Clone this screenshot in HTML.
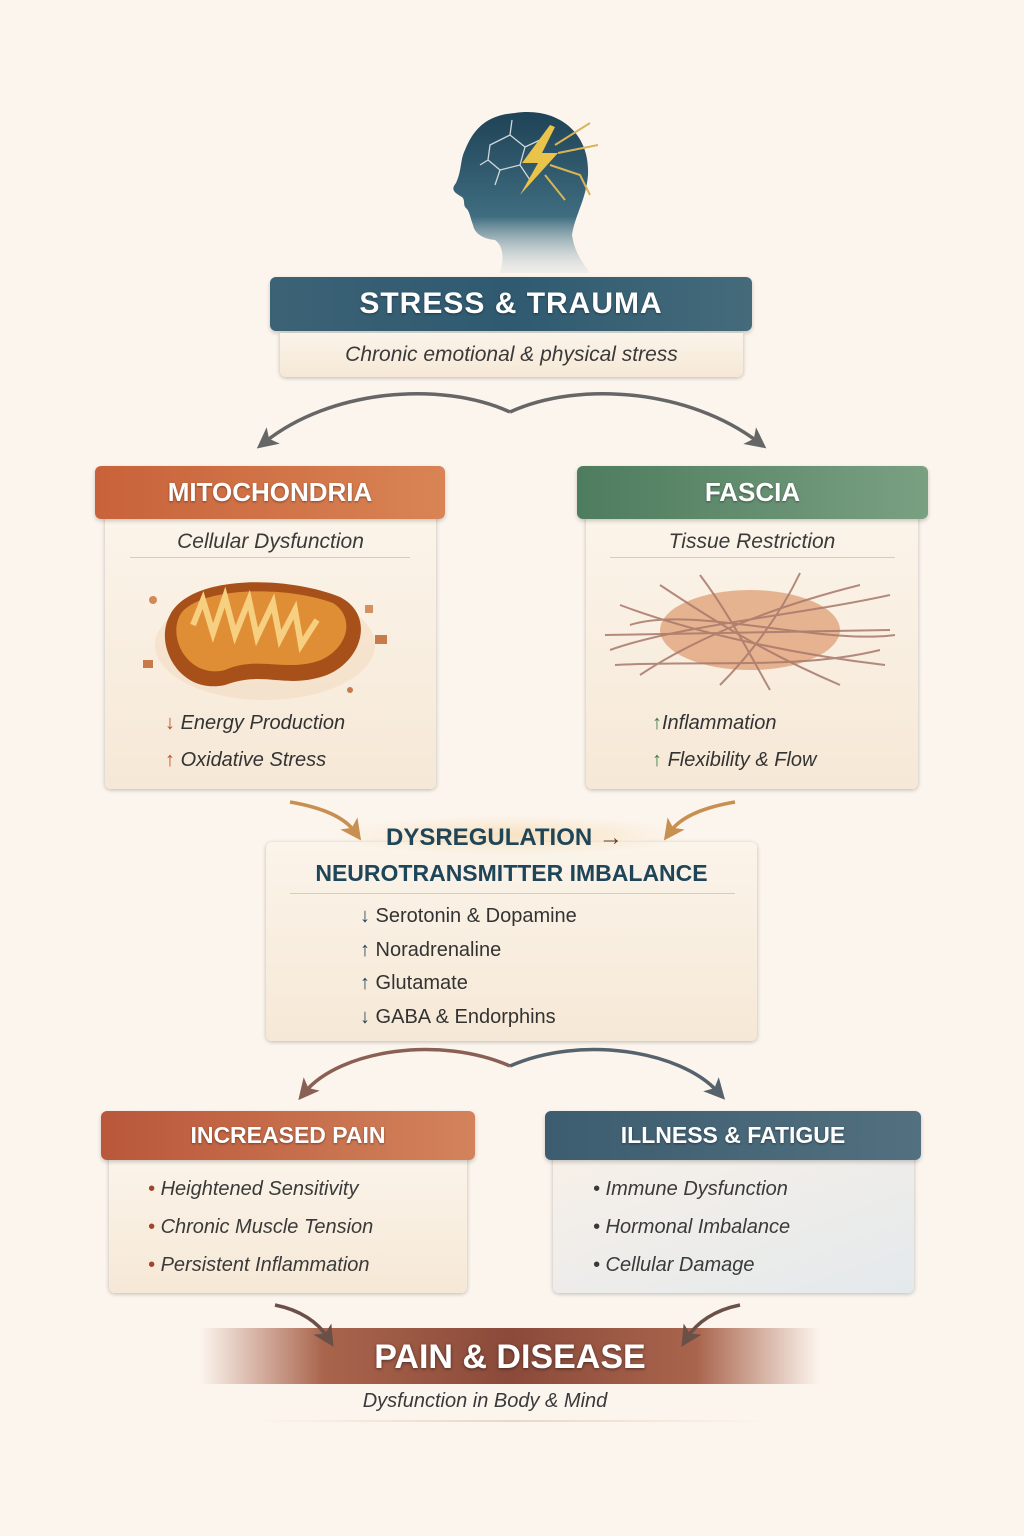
<!DOCTYPE html>
<html><head><meta charset="utf-8"><style>
*{margin:0;padding:0;box-sizing:border-box}
body{width:1024px;height:1536px;background:#fcf5ee;position:relative;overflow:hidden;font-family:"Liberation Sans",sans-serif}
.a{position:absolute}
.hdr{position:absolute;border-radius:6px;color:#fff;font-weight:bold;text-align:center;text-shadow:0 1px 2px rgba(0,0,0,.4);box-shadow:0 2px 4px rgba(0,0,0,.2)}
.body{position:absolute;border-radius:0 0 6px 6px;background:linear-gradient(#fbf4ea,#f6e8d6);box-shadow:0 1px 4px rgba(0,0,0,.25)}
.it{font-style:italic;color:#3a3a3a}
.t{position:absolute;white-space:nowrap}
</style></head><body>

<!-- head -->
<svg class="a" style="left:440px;top:105px" width="170" height="170" viewBox="0 0 170 170">
<defs><linearGradient id="hg" x1="0" y1="0" x2="0" y2="1"><stop offset="0" stop-color="#1f4256"/><stop offset=".65" stop-color="#3f6d80"/><stop offset="1" stop-color="#c8d4d6" stop-opacity=".2"/></linearGradient></defs>
<path d="M75 8 C115 2 150 25 148 70 C146 95 135 110 132 130 C135 150 145 160 150 168 L60 168 C65 150 62 140 55 135 C45 134 35 130 33 120 C30 112 30 108 27 104 C22 100 26 96 22 92 C15 88 10 85 16 78 C22 65 20 55 25 45 C35 20 50 10 75 8Z" fill="url(#hg)"/>
<g stroke="#cfd8dc" stroke-width="1.3" fill="none"><path d="M50 40 L70 30 L85 42 L80 60 L60 65 L48 55 Z M70 30 L72 15 M85 42 L100 35 M80 60 L90 75 M60 65 L55 80 M48 55 L40 60"/></g>
<path d="M110 20 L82 58 L98 58 L80 90 L118 48 L102 48 L115 22Z" fill="#e9c34a"/>
<g stroke="#d9b455" stroke-width="2" fill="none"><path d="M115 40 L150 18 M118 48 L158 40 M110 60 L140 70 L150 90 M105 70 L125 95"/></g>
</svg>

<!-- stress -->
<div class="hdr" style="left:270px;top:277px;width:482px;height:54px;background:linear-gradient(90deg,#3c6275,#2f5a70,#456b7b);font-size:30px;line-height:54px;letter-spacing:1px">STRESS &amp; TRAUMA</div>
<div class="body" style="left:280px;top:333px;width:463px;height:44px"></div>
<div class="t it" style="left:280px;width:463px;top:343px;text-align:center;font-size:21px">Chronic emotional &amp; physical stress</div>

<!-- mito -->
<div class="body" style="left:105px;top:515px;width:331px;height:274px"></div>
<div class="hdr" style="left:95px;top:466px;width:350px;height:53px;background:linear-gradient(90deg,#c8623a,#d98455);font-size:26px;line-height:53px">MITOCHONDRIA</div>
<div class="t it" style="left:105px;width:331px;top:530px;text-align:center;font-size:21px">Cellular Dysfunction</div>
<div class="a" style="left:130px;top:557px;width:280px;height:1px;background:#d8cbbb"></div>
<svg class="a" style="left:135px;top:575px" width="270" height="130" viewBox="0 0 270 130">
<ellipse cx="130" cy="70" rx="110" ry="55" fill="#f3dcc2" opacity=".6"/>
<path d="M35 40 C55 0 150 0 205 22 C240 40 228 85 192 100 C150 115 130 95 90 110 C45 120 18 70 35 40Z" fill="#a8501a"/>
<path d="M45 40 C62 12 150 10 198 28 C220 42 214 72 186 85 C150 98 125 80 90 95 C55 104 32 65 45 40Z" fill="#e08e35"/>
<path d="M58 50 L68 25 L78 58 L90 22 L100 60 L114 25 L122 62 L138 28 L145 64 L160 35 L166 70 L182 45" stroke="#f6cf80" stroke-width="6" fill="none"/>
<rect x="8" y="85" width="10" height="8" fill="#c77a4a"/><rect x="240" y="60" width="12" height="9" fill="#c77a4a"/><rect x="230" y="30" width="8" height="8" fill="#d4905e"/><circle cx="18" cy="25" r="4" fill="#d08a55"/><circle cx="215" cy="115" r="3" fill="#c77a4a"/>
</svg>
<div class="t" style="left:165px;top:712px;font-size:20px;color:#333"><span style="color:#c24a2a">↓</span> <i>Energy Production</i></div>
<div class="t" style="left:165px;top:749px;font-size:20px;color:#333"><span style="color:#c24a2a">↑</span> <i>Oxidative Stress</i></div>

<!-- fascia -->
<div class="body" style="left:586px;top:515px;width:332px;height:274px"></div>
<div class="hdr" style="left:577px;top:466px;width:351px;height:53px;background:linear-gradient(90deg,#4e7c5e,#7aa082);font-size:26px;line-height:53px">FASCIA</div>
<div class="t it" style="left:586px;width:332px;top:530px;text-align:center;font-size:21px">Tissue Restriction</div>
<div class="a" style="left:610px;top:557px;width:285px;height:1px;background:#d8cbbb"></div>
<svg class="a" style="left:600px;top:565px" width="300" height="130" viewBox="0 0 300 130">
<ellipse cx="150" cy="65" rx="90" ry="40" fill="#d88a5a" opacity=".6"/>
<g stroke="#a8786a" stroke-width="2" fill="none" opacity=".85">
<path d="M10 85 C80 60 200 50 290 30"/><path d="M20 40 C100 70 200 90 285 100"/><path d="M40 110 C100 70 180 40 260 20"/><path d="M60 20 C120 60 170 90 240 120"/><path d="M5 70 L290 65"/><path d="M100 10 C130 50 150 90 170 125"/><path d="M200 8 C180 50 150 90 120 120"/><path d="M30 60 C90 40 220 80 295 70"/><path d="M15 100 C100 95 200 105 280 85"/>
</g></svg>
<div class="t" style="left:652px;top:712px;font-size:20px;color:#333"><span style="color:#3b7a4a">↑</span><i>Inflammation</i></div>
<div class="t" style="left:652px;top:749px;font-size:20px;color:#333"><span style="color:#3b7a4a">↑</span> <i>Flexibility &amp; Flow</i></div>

<!-- neuro -->
<div class="body" style="left:266px;top:842px;width:491px;height:199px;border-radius:6px"></div>
<div class="a" style="left:330px;top:815px;width:360px;height:40px;background:radial-gradient(ellipse at center,#f8e2c0,rgba(252,245,238,0) 70%)"></div>
<div class="t" style="left:386px;top:824px;font-size:24px;font-weight:bold;color:#1f4558">DYSREGULATION <span style="color:#6a3a2a">→</span></div>
<div class="t" style="left:266px;width:491px;top:860px;text-align:center;font-size:23px;font-weight:bold;color:#1f4558">NEUROTRANSMITTER IMBALANCE</div>
<div class="a" style="left:290px;top:893px;width:445px;height:1px;background:#d8cbbb"></div>
<div class="t" style="left:360px;top:900px;font-size:20px;color:#333;line-height:33.5px"><span style="color:#1f4558">↓</span> Serotonin &amp; Dopamine<br><span style="color:#1f4558">↑</span> Noradrenaline<br><span style="color:#1f4558">↑</span> Glutamate<br><span style="color:#1f4558">↓</span> GABA &amp; Endorphins</div>

<!-- pain -->
<div class="body" style="left:109px;top:1156px;width:358px;height:137px"></div>
<div class="hdr" style="left:101px;top:1111px;width:374px;height:49px;background:linear-gradient(90deg,#b9573a,#d3835c);font-size:23px;line-height:49px">INCREASED PAIN</div>
<div class="t it" style="left:148px;top:1170px;font-size:20px;line-height:38px"><span style="color:#a0452d">•</span> Heightened Sensitivity<br><span style="color:#a0452d">•</span> Chronic Muscle Tension<br><span style="color:#a0452d">•</span> Persistent Inflammation</div>

<!-- illness -->
<div class="body" style="left:553px;top:1156px;width:361px;height:137px;background:linear-gradient(160deg,#f7f0e8,#e4e9ec)"></div>
<div class="hdr" style="left:545px;top:1111px;width:376px;height:49px;background:linear-gradient(90deg,#3c5d70,#52707f);font-size:23px;line-height:49px">ILLNESS &amp; FATIGUE</div>
<div class="t it" style="left:593px;top:1170px;font-size:20px;line-height:38px">• Immune Dysfunction<br>• Hormonal Imbalance<br>• Cellular Damage</div>

<!-- pain & disease -->
<div class="a" style="left:200px;top:1328px;width:620px;height:56px;background:linear-gradient(90deg,rgba(200,150,130,0),#a9644c 20%,#8b4a3a 50%,#a9644c 80%,rgba(200,150,130,0))"></div>
<div class="t" style="left:200px;width:620px;top:1338px;text-align:center;font-size:34px;font-weight:bold;color:#fff;text-shadow:0 1px 3px rgba(0,0,0,.5)">PAIN &amp; DISEASE</div>
<div class="t it" style="left:200px;width:570px;top:1390px;text-align:center;font-size:20px">Dysfunction in Body &amp; Mind</div>
<div class="a" style="left:250px;top:1420px;width:520px;height:2px;background:linear-gradient(90deg,rgba(0,0,0,0),#e8d8c4,rgba(0,0,0,0))"></div>

<svg class="a" style="left:0;top:0" width="1024" height="1536">
<defs><marker id="m" markerWidth="6" markerHeight="6" refX="3" refY="3" orient="auto" markerUnits="strokeWidth"><path d="M0 0 L6 3 L0 6 L1.5 3 Z" fill="context-stroke"/></marker></defs>
<g fill="none" stroke-width="3.5">
<path d="M510 412 C440 380 330 390 265 442" stroke="#666" marker-end="url(#m)"/>
<path d="M510 412 C580 380 690 390 758 442" stroke="#666" marker-end="url(#m)"/>
<path d="M290 802 C325 808 345 818 355 832" stroke="#c89050" marker-end="url(#m)"/>
<path d="M735 802 C700 808 680 818 670 832" stroke="#c89050" marker-end="url(#m)"/>
<path d="M510 1066 C440 1035 340 1050 305 1092" stroke="#8a6055" marker-end="url(#m)"/>
<path d="M510 1066 C580 1035 680 1050 718 1092" stroke="#56626c" marker-end="url(#m)"/>
<path d="M275 1305 C300 1310 318 1322 328 1338" stroke="#6b5048" marker-end="url(#m)"/>
<path d="M740 1305 C715 1310 697 1322 687 1338" stroke="#6b5048" marker-end="url(#m)"/>
</g>
</svg>
</body></html>
